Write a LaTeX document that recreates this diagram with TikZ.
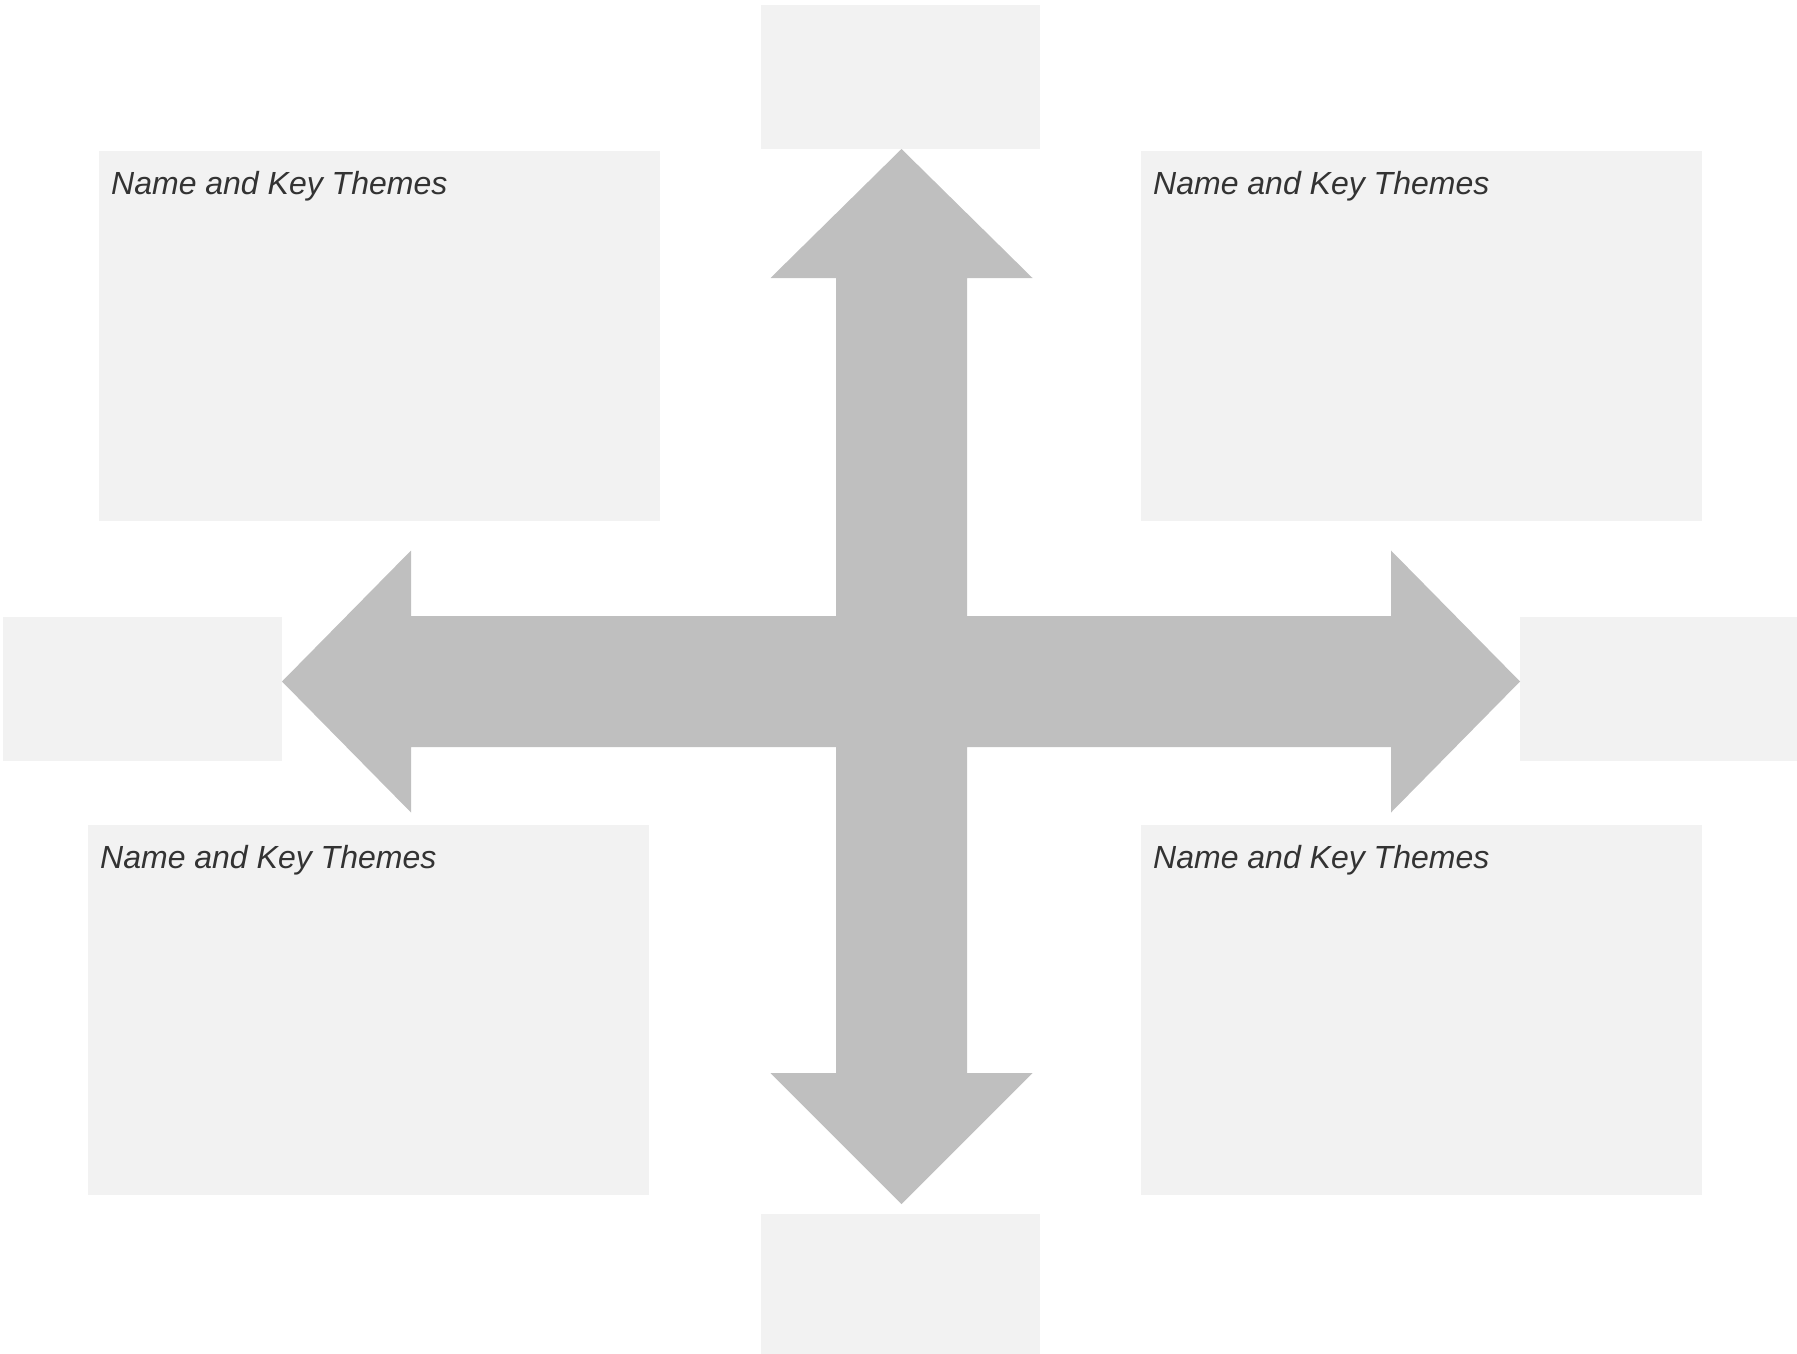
\documentclass[tikz,border=0pt]{standalone}
\usepackage{fontspec}
\usepackage{tikz}
\usetikzlibrary{calc}
\newfontfamily\themefont{Liberation Sans}
\definecolor{boxgray}{HTML}{F2F2F2}
\definecolor{arrowgray}{HTML}{BFBFBF}
\definecolor{inkgray}{HTML}{333333}

\begin{document}
\begin{tikzpicture}[x=1pt,y=-1pt,
  box/.style={fill=boxgray,inner sep=0pt,anchor=north west},
  smallbox/.style={box,minimum width=279pt,minimum height=144pt},
  bigbox/.style={box,minimum width=561pt,minimum height=370pt},
  themes/.style={anchor=base west,inner sep=0pt,text=inkgray,font=\themefont\itshape\fontsize{32}{38}\selectfont}]
\useasboundingbox (0,0) rectangle (1797,1354);
% small boxes at the arrow tips
\node[smallbox] (north) at (761,5) {};
\node[smallbox,minimum height=140pt] (south) at (761,1214) {};
\node[smallbox] (west) at (3,617) {};
\node[smallbox,minimum width=277pt] (east) at (1520,617) {};
% theme boxes
\node[bigbox] (nw) at (99,151) {};
\node[bigbox] (ne) at (1141,151) {};
\node[bigbox] (sw) at (88,825) {};
\node[bigbox] (se) at (1141,825) {};
\foreach \b in {nw,ne,sw,se}
  \node[themes] at ([shift={(12,43)}]\b.north west) {Name and Key Themes};
% four-way arrow
\coordinate (tipN) at (901.5,149);
\coordinate (tipS) at (901.5,1204);
\coordinate (tipW) at (282,681.5);
\coordinate (tipE) at (1520,681.5);
\fill[arrowgray] (tipN) -- ++(131,129) -- ++(-65.5,0) |- ($(tipE)+(-129,-65.5)$) -- ++(0,-65.5)
  -- (tipE) -- ++(-129,131) -- ++(0,-65.5) -| ($(tipS)+(65.5,-131)$) -- ++(65.5,0)
  -- (tipS) -- ++(-131,-131) -- ++(65.5,0) |- ($(tipW)+(129,65.5)$) -- ++(0,65.5)
  -- (tipW) -- ++(129,-131) -- ++(0,65.5) -| ($(tipN)+(-65.5,129)$) -- ++(-65.5,0) -- cycle;
\end{tikzpicture}
\end{document}
